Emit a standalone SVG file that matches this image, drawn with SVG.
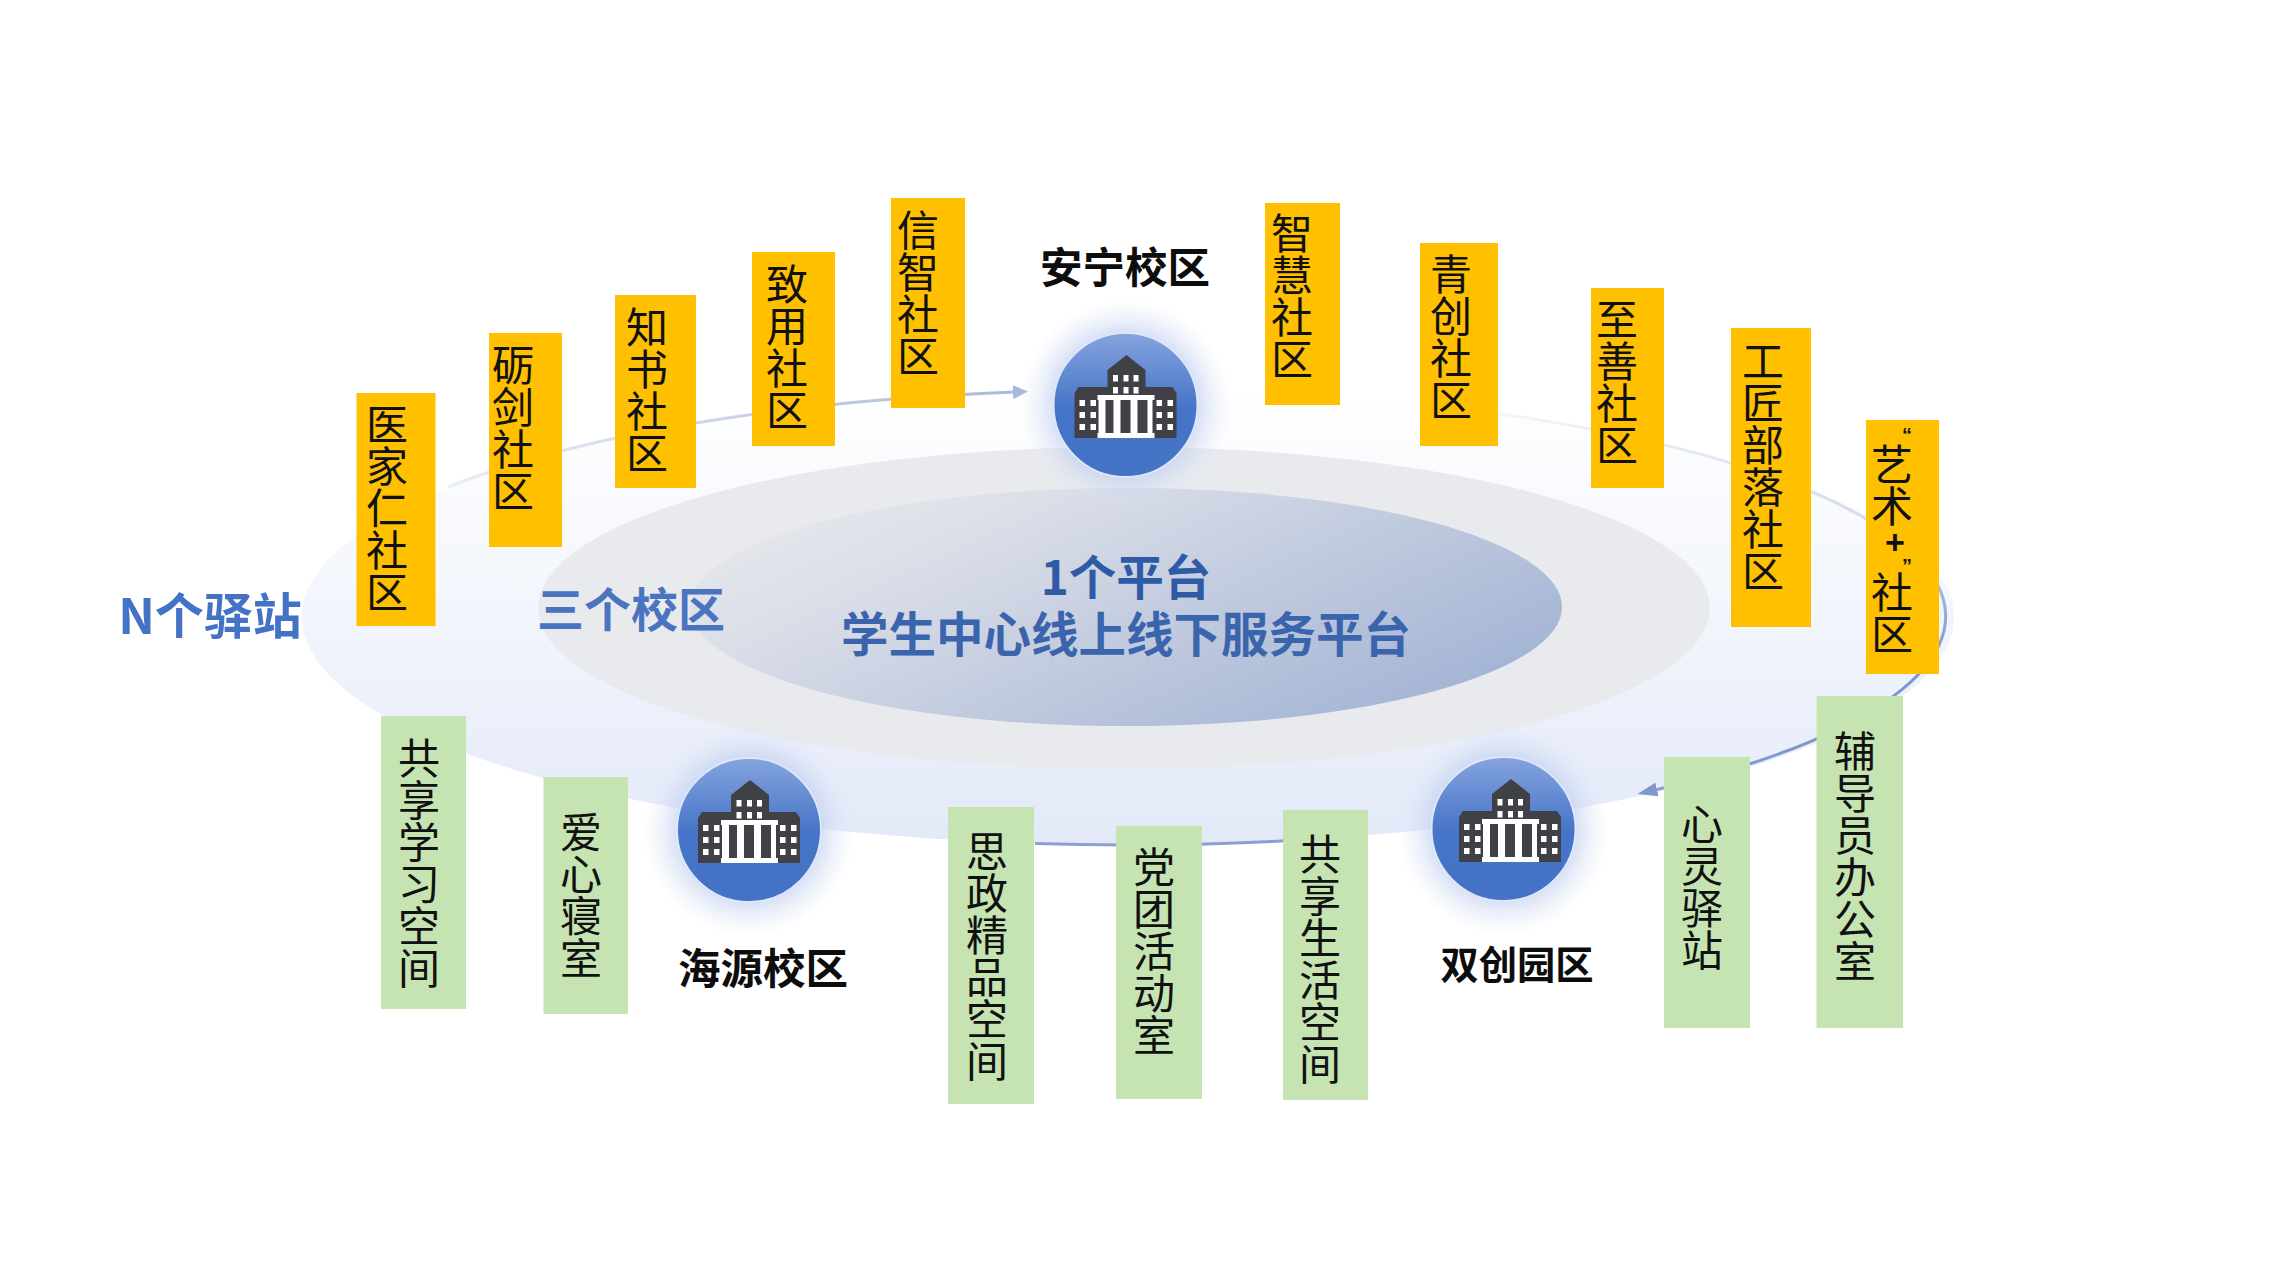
<svg xmlns="http://www.w3.org/2000/svg" width="2276" height="1280" viewBox="0 0 2276 1280">
<style>
text{font-family:"Noto Sans CJK SC","Noto Sans",sans-serif}
.o{fill:#ffc000}
.g{fill:#c6e3b2}
.v{writing-mode:vertical-rl;font-size:42px;fill:#111;text-orientation:upright}
.q{font-family:"Liberation Sans",sans-serif;font-size:20px;font-weight:700}
.p{font-family:"Liberation Sans",sans-serif;font-size:34px;font-weight:700}
.l{font-size:42.500px;font-weight:700;fill:#0d0d0d;text-anchor:middle}
.b{font-weight:700;text-anchor:middle}
.w{fill:#fff}
</style>
<defs>
<linearGradient id="outer" x1="0" y1="0" x2="0" y2="1"><stop offset="0" stop-color="#fff"/><stop offset=".45" stop-color="#f3f6fc"/><stop offset="1" stop-color="#e3e9f8"/></linearGradient>
<linearGradient id="inner" x1="0" y1="0.2" x2="1" y2="0.8"><stop offset="0" stop-color="#e6e8ec"/><stop offset=".22" stop-color="#dcdfe8"/><stop offset="1" stop-color="#9fb1d3"/></linearGradient>
<linearGradient id="disc" x1="0" y1="0" x2="0" y2="1"><stop offset="0" stop-color="#85a4de"/><stop offset=".52" stop-color="#4674c8"/><stop offset="1" stop-color="#4472c4"/></linearGradient>
<radialGradient id="glow"><stop offset=".6" stop-color="#b9c9ec" stop-opacity=".8"/><stop offset="1" stop-color="#dfe6f7" stop-opacity="0"/></radialGradient>
<linearGradient id="arcL" gradientUnits="userSpaceOnUse" x1="448" y1="487" x2="1030" y2="391"><stop offset="0" stop-color="#e9edf5"/><stop offset="1" stop-color="#a9b8da"/></linearGradient>
<linearGradient id="arcR" gradientUnits="userSpaceOnUse" x1="1500" y1="410" x2="1700" y2="790"><stop offset="0" stop-color="#f3f5fa"/><stop offset=".65" stop-color="#d3dbea"/><stop offset="1" stop-color="#7f97cc"/></linearGradient>
<marker id="ah1" markerUnits="userSpaceOnUse" markerWidth="16" markerHeight="14" refX="2" refY="7" orient="auto"><path d="M0 0L15 7L0 14z" fill="#a9b8da"/></marker>
<marker id="ah2" markerUnits="userSpaceOnUse" markerWidth="22" markerHeight="14" refX="2" refY="7" orient="auto"><path d="M0 0L20 7L0 14z" fill="#7f97cc"/></marker>
<g id="bld">
<path d="M-51 -12L-47 -18H-18V-35L1 -50L20 -35V-18H47L51 -12V33H-51z" fill="#404147"/>
<path class="w" d="M-12.500 -30h5v6.500h-5zM-2 -30h5v6.500h-5zM8 -30h5v6.500h-5zM-12.500 -18h5v6.500h-5zM-2 -18h5v6.500h-5zM8 -18h5v6.500h-5z"/>
<path class="w" d="M-28 -10H29V-5H27V28H29V33H-28V28H-27V-5H-28zM-20 -5V28H-12V-5zM-5 -5V28H5V-5zM12 -5V28H22V-5z"/>
<path class="w" d="M-46 -5h5.500v6h-5.500zM-35 -5h5.500v6h-5.500zM-46 7h5.500v6h-5.500zM-35 7h5.500v6h-5.500zM-46 19h5.500v6h-5.500zM-35 19h5.500v6h-5.500zM31 -5h5.500v6h-5.500zM42 -5h5.500v6h-5.500zM31 7h5.500v6h-5.500zM42 7h5.500v6h-5.500zM31 19h5.500v6h-5.500zM42 19h5.500v6h-5.500z"/>
</g>
</defs>
<rect width="2276" height="1280" fill="#fff"/>
<g id="platform">
<ellipse cx="1128" cy="617" rx="826" ry="228" fill="url(#outer)"/>
<ellipse cx="1124" cy="608" rx="586" ry="161" fill="#e8eaee"/>
<ellipse cx="1126" cy="607" rx="436" ry="119" fill="url(#inner)"/>
</g>
<g id="connectors" fill="none" stroke-width="3">
<path d="M448 487A824 228 0 0 1 1015 392" stroke="url(#arcL)" marker-end="url(#ah1)"/>
<path d="M1450 407.400A826 228 0 0 1 1655 790" stroke="url(#arcR)" marker-end="url(#ah2)"/>
<path d="M1035 843.600A824 228 0 0 0 1285 840.700" stroke="#8ba0cf"/>
</g>
<g id="texts-center">
<text class="b" fill="#2f5ba6" font-size="47.500"><tspan x="1126" y="595">1个平台</tspan><tspan x="1126" y="652" fill="#3a64ac">学生中心线上线下服务平台</tspan></text>
<text class="b" x="631" y="627" font-size="47" fill="#4a74c0">三个校区</text>
<text class="b" x="210" y="634" font-size="49" fill="#4472c4">N个驿站</text>
</g>
<g id="campus-anning">
<ellipse cx="1125.500" cy="405" rx="106" ry="106" fill="url(#glow)"/>
<ellipse cx="1125.500" cy="405" rx="72" ry="72" fill="url(#disc)" stroke="#dce7fa" stroke-width="2"/>
<use href="#bld" x="1125.500" y="405"/>
<text class="l" x="1125" y="283">安宁校区</text>
</g>
<g id="campus-haiyuan">
<ellipse cx="749" cy="830" rx="106" ry="106" fill="url(#glow)"/>
<ellipse cx="749" cy="830" rx="72" ry="72" fill="url(#disc)" stroke="#dce7fa" stroke-width="2"/>
<use href="#bld" x="749" y="830"/>
<text class="l" x="763" y="984">海源校区</text>
</g>
<g id="campus-shuangchuang">
<ellipse cx="1503.500" cy="829" rx="106" ry="106" fill="url(#glow)"/>
<ellipse cx="1503.500" cy="829" rx="72" ry="72" fill="url(#disc)" stroke="#dce7fa" stroke-width="2"/>
<use href="#bld" x="1510" y="829"/>
<text class="l" x="1517" y="979" style="font-size:38.300px">双创园区</text>
</g>
<g id="n1"><rect class="o" x="356.500" y="393" width="79" height="233"/><text class="v" x="387" y="403">医家仁社区</text></g>
<g id="n2"><rect class="o" x="489" y="333" width="73" height="214"/><text class="v" x="513" y="344">砺剑社区</text></g>
<g id="n3"><rect class="o" x="615" y="295" width="81" height="193"/><text class="v" x="647" y="306">知书社区</text></g>
<g id="n4"><rect class="o" x="752" y="252" width="83" height="194"/><text class="v" x="787" y="263">致用社区</text></g>
<g id="n5"><rect class="o" x="891" y="198" width="74" height="210"/><text class="v" x="918" y="209">信智社区</text></g>
<g id="n6"><rect class="o" x="1265" y="203" width="75" height="202"/><text class="v" x="1292" y="212">智慧社区</text></g>
<g id="n7"><rect class="o" x="1420" y="243" width="78" height="203"/><text class="v" x="1451" y="253">青创社区</text></g>
<g id="n8"><rect class="o" x="1591" y="288" width="73" height="200"/><text class="v" x="1617" y="298">至善社区</text></g>
<g id="n9"><rect class="o" x="1731" y="328" width="80" height="299"/><text class="v" x="1763" y="340">工匠部落社区</text></g>
<g id="n10"><rect class="o" x="1866" y="420" width="73" height="254"/><text class="v" x="1892" y="424"><tspan class="q" dx="15">“</tspan><tspan dx="-15" dy="-3">艺术</tspan><tspan class="p" dx="3" dy="-4">+</tspan><tspan class="q" dx="12" dy="-6">”</tspan><tspan dx="-15" dy="-6">社区</tspan></text></g>
<g id="s1"><rect class="g" x="381" y="716" width="85" height="293"/><text class="v" x="419" y="737">共享学习空间</text></g>
<g id="s2"><rect class="g" x="543.500" y="777" width="84.500" height="237"/><text class="v" x="581" y="811">爱心寝室</text></g>
<g id="s3"><rect class="g" x="948" y="807" width="86" height="297"/><text class="v" x="987" y="830">思政精品空间</text></g>
<g id="s4"><rect class="g" x="1116" y="826" width="86" height="273"/><text class="v" x="1154" y="846">党团活动室</text></g>
<g id="s5"><rect class="g" x="1283" y="810" width="85" height="290"/><text class="v" x="1320" y="833">共享生活空间</text></g>
<g id="s6"><rect class="g" x="1664" y="757" width="86" height="271"/><text class="v" x="1702" y="803">心灵驿站</text></g>
<g id="s7"><rect class="g" x="1816.500" y="696" width="86.500" height="332"/><text class="v" x="1855" y="730">辅导员办公室</text></g>
</svg>
